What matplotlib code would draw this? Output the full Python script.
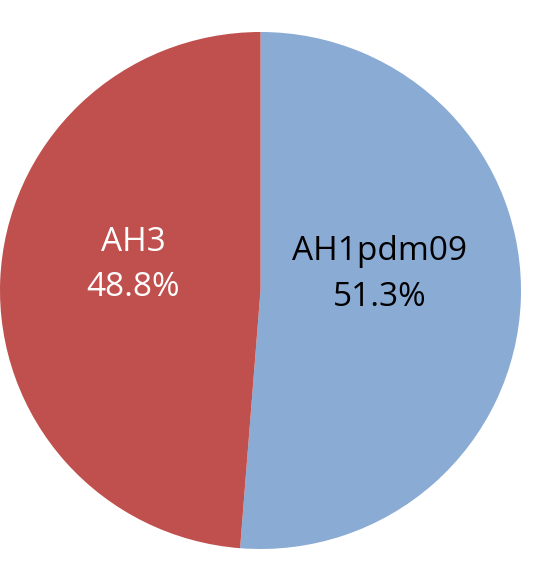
import numpy as np
import matplotlib.pyplot as plt

# subtype shares (as printed on the chart)
labels = ['AH1pdm09', 'AH3']
shares = [51.3, 48.8]
colors = ['#8AABD4', '#C0504D']
text_colors = ['black', 'white']

fig = plt.figure(figsize=(5.5, 5.61), dpi=100)
ax = fig.add_axes([0.0, 12 / 561, 521 / 550, 517 / 561])

wedges, _ = ax.pie(shares, colors=colors, startangle=90, counterclock=False,
                   wedgeprops={'linewidth': 0})
ax.set_aspect('auto')
ax.set_xlim(-1, 1)
ax.set_ylim(-1, 1)

# label radius per wedge, plus a small upward shift
radii = [0.456, 0.49]
for w, name, val, tc, r in zip(wedges, labels, shares, text_colors, radii):
    mid = np.radians(0.5 * (w.theta1 + w.theta2))
    x = r * np.cos(mid)
    y = r * np.sin(mid) + 0.08
    ax.text(x, y, f'{name}\n{val:.1f}%', ha='center', va='center',
            fontsize=24, color=tc, family='Open Sans', linespacing=1.5)

fig.savefig('out.png', dpi=100)
